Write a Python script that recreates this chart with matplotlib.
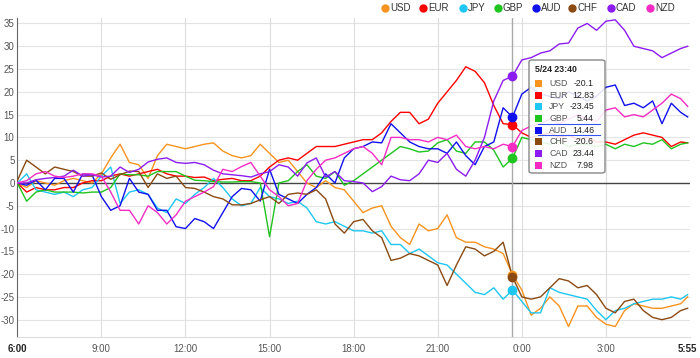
import matplotlib
matplotlib.use('Agg')
import matplotlib.pyplot as plt
from matplotlib.patches import FancyBboxPatch, Rectangle
from matplotlib.lines import Line2D

plt.rcParams['font.family'] = ['Liberation Sans', 'DejaVu Sans']

# minutes after 6:00, one point every 20 minutes, last one at 5:55
minutes = [20 * i for i in range(72)] + [1435]

usd = [0, -1, 0.5, 0, -0.5, 0.5, 1, 0.5, 0, 2, 5.5, 8.5, 4.5, 4, 1, 6, 8.5, 8, 7.5, 8,
       8.5, 8.8, 7, 6, 5.5, 6, 8.5, 6.5, 4.5, 5, 2.5, 0, -1, 0.5, -1, -1.5, -4, -6.5, -5.5, -5,
       -9.5, -12, -13.5, -9, -10.5, -10, -7, -12, -13, -13, -14, -14.5, -15.5, -20.1, -23.5, -29, -27.5, -25, -27, -31.5,
       -27, -27, -29.5, -31, -31.5, -28, -26.5, -27, -27.5, -27.5, -27, -26.5, -25]
eur = [0, -2, -1, -1.5, -1.5, -1, -1, 0, 0.5, 0.5, 1.5, 2, 1.5, 2, 2.5, 3, 2, 1.5, 1.5, 1.2,
       1.3, 0.5, 0.8, 1, 0.5, 0.5, 1.5, 3.5, 5, 5.5, 5, 6.5, 8, 8, 8, 8.5, 9, 9.5, 9.5, 11,
       13.5, 15.5, 15.5, 13, 14, 17.5, 20, 22.5, 25.5, 24.5, 22, 17, 13, 12.83, 11, 10, 10.5, 11, 10, 10.5,
       9.5, 10, 9, 9, 8.5, 9.5, 10.5, 11, 10.5, 10, 8, 9, 8.8]
jpy = [0, 2, -1.5, -2, -2.5, -2, -3, -1.5, -1, 1.5, 3.5, -4.5, -2, -1.5, -2.5, -5.5, -6.5, -3.5, -4.5, -2.5,
       -1, 1, -1, -3.5, -5, -4.5, -1, -3, -3.5, -4.5, -4, -5.5, -8.5, -9, -8.5, -9.5, -10.5, -10.5, -11, -10.5,
       -13.5, -13.5, -15.5, -14.5, -16, -17.5, -18, -20, -22, -24, -24.5, -23, -25.5, -23.45, -26, -28.5, -28.5, -23, -24, -24.5,
       -25, -25.5, -28, -30, -28, -27.5, -26.5, -26, -25.5, -25.5, -25, -25.5, -24.5]
gbp = [0, -4, -2, -1.5, -2, -2, -2, -2.2, -2, -2, -1, 2, 1.8, 1.8, 1.5, 2.5, 2.5, 2.5, 1.5, 0.6,
       0.5, 0.3, 0.2, 0.2, 0.3, 0.3, 0, -11.8, 0, 0.5, 2.5, 4, 1.5, 1, 2.5, -0.5, 0.5, 2, 3.5, 5,
       6.5, 8, 7.5, 6.8, 7, 8.8, 9.5, 7, 6.5, 9, 9, 7.2, 3.5, 5.44, 10, 9.5, 9, 8.5, 9, 8,
       8.5, 8.5, 8, 8.5, 7.5, 8.5, 8, 8.8, 8.5, 9.5, 7.5, 8.5, 8.8]
aud = [0, -0.5, 0.6, -1.5, 1, 1, -2, 2, 1.8, -3, -6, -5, 1, -2, -2.5, -6, -6, -9.6, -10, -7.8,
       -8.5, -10, -6.5, -3, -1.2, -1.5, -4, 3, -2.5, -3.5, -4.5, -2.5, -1, 2, 0, 5.5, 7.5, 8, 9, 8.8,
       13, 11, 9, 8, 7.5, 7.5, 6.5, 9, 6, 4, 8, 9, 16.5, 14.46, 19.5, 21, 19.5, 19, 18.5, 20,
       19, 18, 19, 21, 21.5, 17, 17.5, 16.5, 18, 13, 17.5, 15.5, 14.5]
chf = [0.5, 5, 3.5, 2, 3.5, 3, 2.5, 1.5, 1.5, 2.2, 0.8, 1.8, 2.6, 2.5, -1, 2, 1, 1.5, -1, -1.2,
       -2, -3, -3.5, -4.8, -4.8, -4.5, -3.7, -3, -4.5, -2.5, -2.2, -2.5, -1.5, -3.5, -9, -11, -8.5, -8, -10.5, -12,
       -17, -16.5, -15.5, -16, -17, -18, -22.5, -18, -14, -14.5, -16, -15, -13, -20.6, -25, -25.5, -25, -23, -21, -21.5,
       -23, -22.5, -24.5, -27.5, -28.5, -26, -25.5, -28, -29.5, -30, -29.5, -28, -27.5]
cad = [0, 0, 0.7, 1, 1.2, 1.5, 2.8, 1.5, 1.8, 1.3, 1.5, 3.5, 2.3, 3, 4.6, 5.2, 5.5, 4.5, 4.3, 4.5,
       4, 2.8, 2, 1.8, 1.6, 1.3, 2, 2.5, 4, 3.5, 1.5, 4.4, 5.5, 1.3, 2.5, 0.5, 0.3, 0, -1.9, -0.8,
       1.5, 0.7, 0.5, 2, 5, 4.5, 6.5, 3, 1.5, 5, 10, 18, 22.5, 23.44, 27, 27.5, 28.5, 29, 30.5, 30.7,
       34, 35, 33.5, 35.5, 35.8, 33.5, 30, 29.5, 29, 27.5, 28.5, 29.5, 30]
nzd = [0, 0.5, 2, 2.5, 1.5, 1.2, 1.5, 2, 2, 1.5, -2, -6, -6, -9, -5, -6.5, -9, -7, -4, -3,
       -2, -0.8, 3, 2.5, 3.6, 4.5, 1.5, -1.5, -3, -5, -4.5, 0.5, 3, 5, 5.5, 6.5, 7.5, 8, 6.5, 4,
       10, 10, 9.5, 9.5, 9, 10, 9.5, 10.5, 8, 7.5, 8, 7.5, 8.5, 7.98, 11.5, 12.5, 13, 14, 13, 14,
       15, 14, 13.5, 16, 16.5, 14.5, 15, 14.5, 16, 17.5, 19.5, 18.5, 16.8]

names = ['USD', 'EUR', 'JPY', 'GBP', 'AUD', 'CHF', 'CAD', 'NZD']
series = [usd, eur, jpy, gbp, aud, chf, cad, nzd]
colors = ['#f7931e', '#ff0000', '#1ec6f2', '#1fc41f', '#1010ee', '#8b4a12', '#8c1cf0', '#f52cc4']

tick_pos = [0, 180, 360, 540, 720, 900, 1080, 1260, 1435]
tick_lab = ['6:00', '9:00', '12:00', '15:00', '18:00', '21:00', '0:00', '3:00', '5:55']

hover_idx = 53
hover_label = '5/24 23:40'
hover_text = ['-20.1', '12.83', '-23.45', '5.44', '14.46', '-20.6', '23.44', '7.98']

W, H = 700, 358
fig = plt.figure(figsize=(7, 3.58), dpi=100)
ax = fig.add_axes([17.3 / W, 1 - 337 / H, (690 - 17.3) / W, (337 - 18) / H])

for name, vals, c in zip(names, series, colors):
    ax.plot(minutes, vals, color=c, lw=1.0, zorder=3)

ax.set_xlim(0, 1440)
ax.set_ylim(-33.8, 36.2)
ax.set_yticks(range(-30, 36, 5))
ax.set_yticklabels([str(v) for v in range(-30, 36, 5)], fontsize=7, color='#555555')
ax.set_xticks(tick_pos)
ax.set_xticklabels(tick_lab, fontsize=7, color='#555555')
for lab in (ax.get_xticklabels()[0], ax.get_xticklabels()[-1]):
    lab.set_fontweight('bold')
    lab.set_color('#222222')
ax.tick_params(axis='y', length=0, pad=2)
ax.tick_params(axis='x', length=0, pad=5)

for v in range(-30, 36, 5):
    if v != 0:
        ax.axhline(v, color='#e4e4e4', lw=0.8, zorder=1)
for t in tick_pos[1:-1]:
    ax.axvline(t, color='#dddddd', lw=0.8, zorder=1)
ax.axhline(0, color='#444444', lw=1.0, zorder=2)

for s in ['top', 'right']:
    ax.spines[s].set_visible(False)
ax.spines['left'].set_color('#666666')
ax.spines['bottom'].set_color('#dddddd')

# crosshair and hover markers
hx = minutes[hover_idx]
ax.axvline(hx, color='#aaaaaa', lw=1.0, zorder=4)
for vals, c in zip(series, colors):
    ax.plot([hx], [vals[hover_idx]], 'o', color=c, ms=6, zorder=5)

# legend across the top
lx = [385, 423, 463, 498, 536, 572, 611, 650]
for name, c, x in zip(names, colors, lx):
    fig.add_artist(Line2D([x / W], [1 - 8 / H], marker='o', color=c, ms=5, lw=0))
    fig.text((x + 5) / W, 1 - 8 / H, name, fontsize=7, color='#333333', va='center')

# tooltip
box = FancyBboxPatch((529 / W, 1 - 173 / H), 76 / W, 113 / H,
                     boxstyle='round,pad=0,rounding_size=0.005',
                     transform=fig.transFigure, facecolor='white', edgecolor='#777777',
                     lw=1.0, alpha=0.88, zorder=10)
fig.add_artist(box)
fig.text(535 / W, 1 - 70 / H, hover_label, fontsize=6.3, fontweight='bold', color='#222222',
         va='center', zorder=11)
for k, (name, c, txt) in enumerate(zip(names, colors, hover_text)):
    y = 83.3 + k * 11.7
    fig.add_artist(Rectangle((535 / W, 1 - (y + 3.5) / H), 7 / W, 7 / H,
                             transform=fig.transFigure, facecolor=c, edgecolor='none', zorder=11))
    fig.text(549 / W, 1 - y / H, name, fontsize=6.3, color='#555555', va='center', zorder=11)
    fig.text(594 / W, 1 - y / H, txt, fontsize=6.3, color='#222222', va='center', ha='right',
             zorder=11)
for yy in (124.3, 135):
    fig.add_artist(Line2D([538 / W, 600 / W], [1 - yy / H, 1 - yy / H], color='#3355ee',
                          lw=0.8, zorder=11))

fig.savefig('out.png', dpi=100)
